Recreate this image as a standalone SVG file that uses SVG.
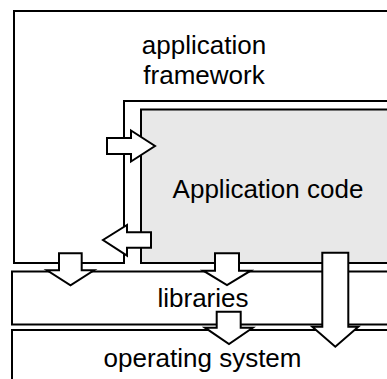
<svg xmlns="http://www.w3.org/2000/svg" width="387" height="379" viewBox="0 0 387 379">
<style>
.box{fill:#fff;stroke:#000;stroke-width:2}
.gray{fill:#e8e8e8;stroke:#000;stroke-width:2}
.arr{fill:#fff;stroke:#000;stroke-width:2;stroke-linejoin:miter}
text{font-family:"Liberation Sans",Arial,sans-serif;font-size:26px;fill:#000;text-anchor:middle}
</style>
<rect width="387" height="379" fill="#fff"/>
<g id="framework">
<path class="box" d="M 395 11 H 14 V 263 H 124 V 101 H 395"/>
<text x="204" y="54">application</text>
<text x="204" y="84">framework</text>
</g>
<g id="appcode">
<rect class="gray" x="141" y="109.5" width="260" height="153.5"/>
<text x="268" y="198">Application code</text>
</g>
<g id="libraries">
<rect class="box" x="12" y="271.5" width="390" height="53"/>
<text x="203" y="307">libraries</text>
</g>
<g id="os">
<rect class="box" x="12" y="330" width="390" height="60"/>
<text x="202.5" y="366.5">operating system</text>
</g>
<g id="connectors">
<polygon class="arr" points="107,138 131,138 131,130.5 155,146 131,161.5 131,154 107,154"/>
<polygon class="arr" points="151,232.3 127,232.3 127,225 103,240 127,255.7 127,247.7 151,247.7"/>
<polygon class="arr" points="59,253.3 81.7,253.3 81.7,270.3 94,270.3 70.5,285.3 47,270.3 59,270.3"/>
<polygon class="arr" points="215,253.3 239,253.3 239,270.7 250.7,270.7 227,285 203.3,270.7 215,270.7"/>
<polygon class="arr" points="216.7,311.7 240.7,311.7 240.7,327.7 252.7,327.7 229,344 205,327.7 216.7,327.7"/>
<polygon class="arr" points="322.3,252.7 348.3,252.7 348.3,326.7 358.3,326.7 335.3,346.7 312.3,326.7 322.3,326.7"/>
</g>
</svg>
